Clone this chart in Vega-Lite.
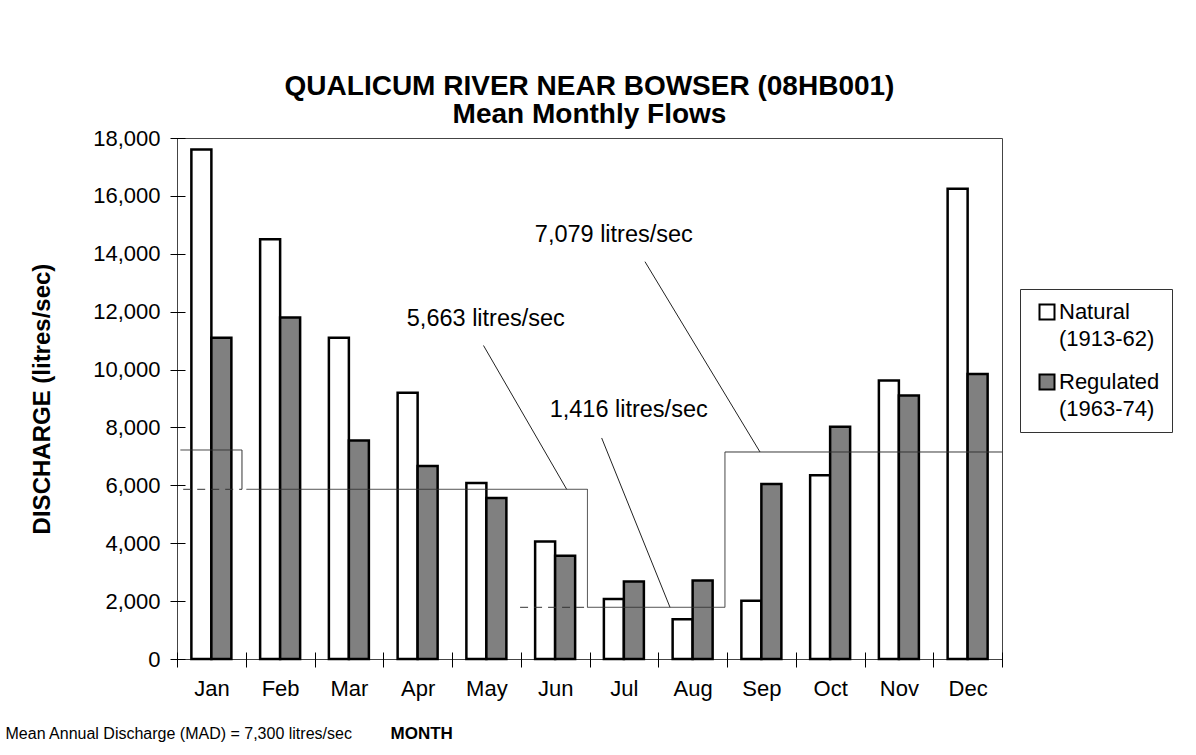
{
  "$schema": "https://vega.github.io/schema/vega-lite/v6.json",
  "width": 825,
  "height": 521,
  "autosize": "none",
  "padding": {"left": 177, "top": 138, "right": 194, "bottom": 96},
  "background": "white",
  "config": {
    "font": "Liberation Sans",
    "view": {"stroke": "#444444", "strokeWidth": 1},
    "style": {"guide-label": {"lineHeight": 27}}
  },
  "title": {
    "text": ["QUALICUM RIVER NEAR BOWSER (08HB001)", "Mean Monthly Flows"],
    "fontSize": 28,
    "fontWeight": "bold",
    "font": "Liberation Sans",
    "color": "black",
    "anchor": "middle",
    "lineHeight": 28,
    "offset": -2
  },
  "layer": [
    {
      "data": {
        "values": [
          {"month": "Jan", "series": "Natural", "flow": 17600},
          {"month": "Jan", "series": "Regulated", "flow": 11100},
          {"month": "Feb", "series": "Natural", "flow": 14500},
          {"month": "Feb", "series": "Regulated", "flow": 11800},
          {"month": "Mar", "series": "Natural", "flow": 11100},
          {"month": "Mar", "series": "Regulated", "flow": 7550},
          {"month": "Apr", "series": "Natural", "flow": 9200},
          {"month": "Apr", "series": "Regulated", "flow": 6670},
          {"month": "May", "series": "Natural", "flow": 6080},
          {"month": "May", "series": "Regulated", "flow": 5560},
          {"month": "Jun", "series": "Natural", "flow": 4060},
          {"month": "Jun", "series": "Regulated", "flow": 3570},
          {"month": "Jul", "series": "Natural", "flow": 2070},
          {"month": "Jul", "series": "Regulated", "flow": 2680},
          {"month": "Aug", "series": "Natural", "flow": 1370},
          {"month": "Aug", "series": "Regulated", "flow": 2710},
          {"month": "Sep", "series": "Natural", "flow": 2010},
          {"month": "Sep", "series": "Regulated", "flow": 6050},
          {"month": "Oct", "series": "Natural", "flow": 6350},
          {"month": "Oct", "series": "Regulated", "flow": 8020},
          {"month": "Nov", "series": "Natural", "flow": 9620},
          {"month": "Nov", "series": "Regulated", "flow": 9100},
          {"month": "Dec", "series": "Natural", "flow": 16250},
          {"month": "Dec", "series": "Regulated", "flow": 9850}
        ]
      },
      "mark": {"type": "bar", "stroke": "black", "strokeWidth": 2.5},
      "encoding": {
        "x": {
          "field": "month",
          "type": "nominal",
          "sort": ["Jan", "Feb", "Mar", "Apr", "May", "Jun", "Jul", "Aug", "Sep", "Oct", "Nov", "Dec"],
          "scale": {"paddingInner": 0, "paddingOuter": 0},
          "axis": {
            "orient": "bottom",
            "title": "MONTH",
            "titleFontWeight": "bold",
            "titleFontSize": 17,
            "titleColor": "black",
            "titleX": 213,
            "titleY": 86,
            "titleAlign": "left",
            "titleBaseline": "alphabetic",
            "tickBand": "extent",
            "tickSize": 15,
            "tickColor": "black",
            "offset": -7,
            "domain": false,
            "grid": false,
            "labelAngle": 0,
            "labelFontSize": 22,
            "labelColor": "black",
            "labelPadding": 11
          }
        },
        "xOffset": {
          "field": "series",
          "type": "nominal",
          "sort": ["Natural", "Regulated"],
          "scale": {"paddingInner": 0, "paddingOuter": 0.71875}
        },
        "y": {
          "field": "flow",
          "type": "quantitative",
          "scale": {"domain": [0, 18000], "nice": false},
          "axis": {
            "values": [0, 2000, 4000, 6000, 8000, 10000, 12000, 14000, 16000, 18000],
            "format": ",.0f",
            "tickSize": 15,
            "tickColor": "black",
            "offset": -8,
            "domain": false,
            "grid": false,
            "labelFontSize": 22,
            "labelColor": "black",
            "labelPadding": 10,
            "title": "DISCHARGE (litres/sec)",
            "titleFontSize": 24,
            "titleFontWeight": "bold",
            "titleColor": "black",
            "titlePadding": 38
          }
        },
        "fill": {
          "field": "series",
          "type": "nominal",
          "scale": {"domain": ["Natural", "Regulated"], "range": ["white", "#808080"]},
          "legend": {
            "orient": "none",
            "legendX": 843,
            "legendY": 151,
            "title": null,
            "strokeColor": "#333333",
            "fillColor": "white",
            "padding": 12,
            "labelFontSize": 22,
            "labelColor": "black",
            "labelOffset": 1,
            "symbolOffset": 4,
            "symbolType": "square",
            "symbolSize": 225,
            "symbolStrokeColor": "black",
            "symbolStrokeWidth": 2,
            "rowPadding": 20,
            "labelBaseline": "middle",
            "labelExpr": "datum.label == 'Natural' ? ['Natural', '(1913-62)'] : ['Regulated', '(1963-74)']"
          }
        }
      }
    },
    {
      "layer": [
        {
          "data": {
            "values": [
              {"x": 0.05, "x2": 0.945, "y": 7221, "y2": 7221, "kind": "solid"},
              {"x": 0.945, "x2": 0.945, "y": 7221, "y2": 5863, "kind": "solid"},
              {"x": 0.09, "x2": 0.945, "y": 5863, "y2": 5863, "kind": "dash"},
              {"x": 1.01, "x2": 5.97, "y": 5863, "y2": 5863, "kind": "solid"},
              {"x": 5.97, "x2": 5.97, "y": 5863, "y2": 1786, "kind": "solid"},
              {"x": 4.99, "x2": 5.97, "y": 1786, "y2": 1786, "kind": "dash"},
              {"x": 5.97, "x2": 7.97, "y": 1786, "y2": 1786, "kind": "solid"},
              {"x": 7.97, "x2": 7.97, "y": 1786, "y2": 7152, "kind": "solid"},
              {"x": 7.97, "x2": 12, "y": 7152, "y2": 7152, "kind": "solid"}
            ]
          },
          "mark": {"type": "rule", "color": "#333333", "strokeWidth": 1},
          "encoding": {
            "x": {
              "field": "x",
              "type": "quantitative",
              "scale": {"domain": [0, 12], "nice": false, "zero": false},
              "axis": {
                "orient": "bottom",
                "title": "Mean Annual Discharge (MAD) = 7,300 litres/sec",
                "labels": false,
                "ticks": false,
                "domain": false,
                "grid": false,
                "titleX": -172,
                "titleY": 79,
                "titleAlign": "left",
                "titleBaseline": "alphabetic",
                "titleFontWeight": "normal",
                "titleFontSize": 16,
                "titleColor": "black"
              }
            },
            "x2": {"field": "x2"},
            "y": {"field": "y", "type": "quantitative", "scale": {"domain": [0, 18000], "nice": false}},
            "y2": {"field": "y2"},
            "strokeDash": {
              "field": "kind",
              "type": "nominal",
              "scale": {"domain": ["solid", "dash"], "range": [[1, 0], [8, 6]]},
              "legend": null
            }
          }
        },
        {
          "data": {
            "values": [
              {"x": 4.458, "x2": 5.668, "y": 10831, "y2": 5863},
              {"x": 6.177, "x2": 7.171, "y": 7636, "y2": 1786},
              {"x": 6.807, "x2": 8.48, "y": 13727, "y2": 7152}
            ]
          },
          "mark": {"type": "rule", "color": "#222222", "strokeWidth": 1},
          "encoding": {
            "x": {"field": "x", "type": "quantitative", "scale": {"domain": [0, 12], "nice": false, "zero": false}},
            "x2": {"field": "x2"},
            "y": {"field": "y", "type": "quantitative"},
            "y2": {"field": "y2"}
          }
        },
        {
          "data": {
            "values": [
              {"label": "5,663 litres/sec", "x": 4.492, "y": 11516},
              {"label": "1,416 litres/sec", "x": 6.57, "y": 8371},
              {"label": "7,079 litres/sec", "x": 6.354, "y": 14397}
            ]
          },
          "mark": {"type": "text", "fontSize": 23.5, "align": "center", "baseline": "alphabetic", "color": "black"},
          "encoding": {
            "x": {"field": "x", "type": "quantitative", "scale": {"domain": [0, 12], "nice": false, "zero": false}},
            "y": {"field": "y", "type": "quantitative"},
            "text": {"field": "label"}
          }
        }
      ]
    }
  ],
  "resolve": {"scale": {"x": "independent"}, "axis": {"x": "independent"}}
}
